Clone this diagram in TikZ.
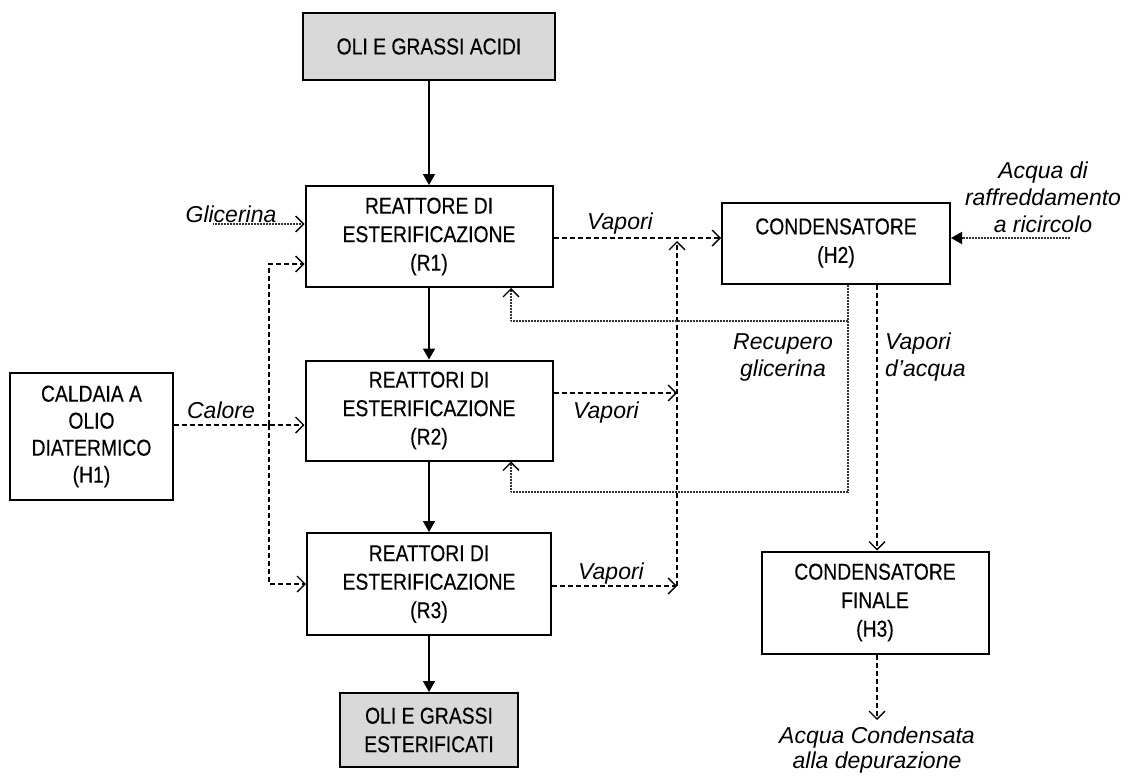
\documentclass[tikz,border=0pt]{standalone}
\usepackage{fontspec}
\setmainfont{Liberation Sans}
\newfontfamily\boxfont{Liberation Sans}[FakeStretch=0.84,FakeBold=0.35]
\usetikzlibrary{arrows.meta}
\definecolor{boxgray}{HTML}{D9D9D9}
\definecolor{dotgray}{HTML}{333333}
\tikzset{
  procbox/.style={draw, line width=2pt, align=center, inner sep=0pt,
    font=\boxfont\fontsize{23}{28.5}\selectfont},
  graybox/.style={procbox, fill=boxgray},
  lbl/.style={inner sep=0pt, font=\itshape\fontsize{23}{27}\selectfont},
  solidarrow/.style={line width=1.6pt, -{Triangle[length=11pt,width=12pt]}},
  dashline/.style={line width=1.2pt, dash pattern=on 5pt off 3pt},
  dasharrow/.style={dashline, -{Straight Barb[length=8pt,width=16pt,line width=1.3pt]}},
  dotline/.style={line width=1.4pt, dotgray, dash pattern=on 0.8pt off 0.7pt},
  dotarrow/.style={dotline, -{Straight Barb[length=8pt,width=16pt,line width=1.3pt,black]}},
  dotfilled/.style={dotline, -{Triangle[length=11pt,width=12pt,black]}}
}
\begin{document}
\begin{tikzpicture}[x=1pt,y=-1pt]
\useasboundingbox (0,0) rectangle (1129,776);

% boxes
\node[graybox, minimum width=252pt, minimum height=67pt] (top) at (429,46.5) {OLI E GRASSI ACIDI};
\node[procbox, minimum width=247pt, minimum height=101pt] (R1) at (429,236.5) {REATTORE DI\\ESTERIFICAZIONE\\(R1)};
\node[procbox, minimum width=247pt, minimum height=100pt] (R2) at (429,410.5) {REATTORI DI\\ESTERIFICAZIONE\\(R2)};
\node[procbox, minimum width=244pt, minimum height=102pt] (R3) at (429,584) {REATTORI DI\\ESTERIFICAZIONE\\(R3)};
\node[graybox, minimum width=178pt, minimum height=74pt] (bot) at (429,730) {OLI E GRASSI\\ESTERIFICATI};
\node[procbox, minimum width=163pt, minimum height=127pt, font=\boxfont\fontsize{23}{27}\selectfont] (H1) at (91.5,436.5) {CALDAIA A\\OLIO\\DIATERMICO\\(H1)};
\node[procbox, minimum width=228pt, minimum height=81pt] (H2) at (836,243) {CONDENSATORE\\(H2)};
\node[procbox, minimum width=227pt, minimum height=102pt] (H3) at (875,602.5) {CONDENSATORE\\FINALE\\(H3)};

% main solid flow
\draw[solidarrow] (top.south) -- (R1.north);
\draw[solidarrow] (R1.south) -- (R2.north);
\draw[solidarrow] (R2.south) -- (R3.north);
\draw[solidarrow] (R3.south) -- (bot.north);

% glicerina
\coordinate (glstart) at (213,224);
\draw[dotarrow] (glstart) -- (R1.west |- glstart);
\node[lbl, anchor=base] (glt) at (231,222) {Glicerina};

% calore
\coordinate (cal) at (0,425);
\coordinate (j1) at (269,425);
\coordinate (r1in) at (0,264);
\draw[dasharrow] (H1.east |- cal) -- (R2.west |- cal);
\draw[dasharrow] (j1) |- (R1.west |- r1in);
\draw[dasharrow] (j1) |- (R3.west);
\node[lbl, anchor=base] (calt) at (221,418) {Calore};

% vapori
\coordinate (v1) at (0,238);
\coordinate (v2) at (677,393);
\coordinate (v3) at (677,586);
\coordinate (vtop) at (677,241);
\draw[dasharrow] (R1.east |- v1) -- (H2.west |- v1);
\draw[dasharrow] (R2.east |- v2) -- (v2);
\draw[dasharrow] (R3.east |- v3) -- (v3);
\draw[dasharrow] (v3) -- (vtop);
\node[lbl, anchor=base] (vt1) at (620,229) {Vapori};
\node[lbl, anchor=base] (vt2) at (606,418) {Vapori};
\node[lbl, anchor=base] (vt3) at (611,579) {Vapori};

% recupero glicerina
\coordinate (rc0) at (848,0);
\coordinate (rc1) at (848,321);
\coordinate (rc2) at (848,492);
\coordinate (rl1) at (511,321);
\coordinate (rl2) at (511,492);
\draw[dotline] (H2.south -| rc0) -- (rc2);
\draw[dotarrow] (rc1) -- (rl1) -- (R1.south -| rl1);
\draw[dotarrow] (rc2) -- (rl2) -- (R2.south -| rl2);
\node[lbl, align=center] (rect) at (783,357) {Recupero\\glicerina};

% vapori d'acqua
\coordinate (va) at (877,0);
\draw[dasharrow] (H2.south -| va) -- (H3.north -| va);
\node[lbl, align=left, anchor=west] (vat) at (885,357) {Vapori\\d’acqua};

% acqua di raffreddamento
\coordinate (cw) at (1070,238);
\draw[dotfilled] (cw) -- (H2.east |- cw);
\node[lbl, align=center] (cwt) at (1043,197.5) {Acqua di\\raffreddamento\\a ricircolo};

% acqua condensata
\coordinate (ac) at (877,720);
\draw[dasharrow] (H3.south -| ac) -- (ac);
\node[lbl, align=center, font=\itshape\fontsize{23}{25}\selectfont] (act) at (877,750) {Acqua Condensata\\alla depurazione};
\end{tikzpicture}
\end{document}
